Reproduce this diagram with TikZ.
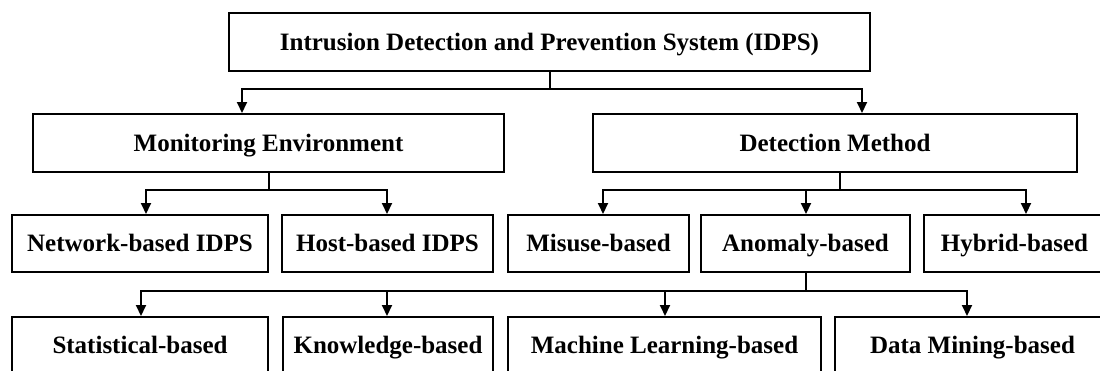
\documentclass[tikz,border=0pt]{standalone}
\usepackage{fontspec}
\setmainfont{Liberation Serif}
\usetikzlibrary{arrows.meta}
\begin{document}
\begin{tikzpicture}[x=1pt,y=-1pt,
  box/.style={draw=black, line width=2pt, rectangle, minimum height=57pt, inner sep=0pt,
    text height=16.5pt, text depth=0pt, font=\fontsize{25}{29}\selectfont\bfseries},
  conn/.style={draw=black, line width=2pt},
  arr/.style={conn, -{Triangle[width=10pt,length=11pt]}}]
\useasboundingbox (0,0) rectangle (1100,370);
\fill[white] (0,0) rectangle (1100,370);
% nodes
\node[box, minimum width=641pt, minimum height=58pt] (top) at (549.5,42) {Intrusion Detection and Prevention System (IDPS)};
\node[box, minimum width=471pt, minimum height=58pt] (me) at (268.5,143) {Monitoring Environment};
\node[box, minimum width=484pt, minimum height=58pt] (dm) at (835,143) {Detection Method};
\node[box, minimum width=256pt] (nb) at (140,243.5) {Network-based IDPS};
\node[box, minimum width=211pt] (hb) at (387.5,243.5) {Host-based IDPS};
\node[box, minimum width=181pt] (mb) at (598.5,243.5) {Misuse-based};
\node[box, minimum width=209pt] (ab) at (805.5,243.5) {Anomaly-based};
\node[box, minimum width=181pt] (hy) at (1014.5,243.5) {Hybrid-based};
\node[box, minimum width=256pt] (sb) at (140,345.5) {Statistical-based};
\node[box, minimum width=210pt] (kb) at (388,345.5) {Knowledge-based};
\node[box, minimum width=313pt] (ml) at (664.5,345.5) {Machine Learning-based};
\node[box, minimum width=275pt] (dmb) at (972.5,345.5) {Data Mining-based};
% junctions and arrow columns
\coordinate (j0) at (549.5,89);
\coordinate (j1) at (268.5,190);
\coordinate (j2) at (840,190);
\coordinate (j3) at (805.5,291);
\coordinate (c1) at (242,0);
\coordinate (c2) at (862,0);
\coordinate (c3) at (146,0);
\coordinate (c4) at (387,0);
\coordinate (c5) at (603,0);
\coordinate (c6) at (806,0);
\coordinate (c7) at (1026,0);
\coordinate (c8) at (141,0);
\coordinate (c9) at (387,0);
\coordinate (c10) at (665,0);
\coordinate (c11) at (967,0);
% connectors
\draw[conn] (top.south) -- (j0);
\draw[arr] (j0) -| (me.north -| c1);
\draw[arr] (j0) -| (dm.north -| c2);
\draw[conn] (me.south) -- (j1);
\draw[arr] (j1) -| (nb.north -| c3);
\draw[arr] (j1) -| (hb.north -| c4);
\draw[conn] (dm.south -| j2) -- (j2);
\draw[arr] (j2) -| (mb.north -| c5);
\draw[arr] (j2) -| (ab.north -| c6);
\draw[arr] (j2) -| (hy.north -| c7);
\draw[conn] (ab.south) -- (j3);
\draw[arr] (j3) -| (sb.north -| c8);
\draw[arr] (j3) -| (kb.north -| c9);
\draw[arr] (j3) -| (ml.north -| c10);
\draw[arr] (j3) -| (dmb.north -| c11);
\end{tikzpicture}
\end{document}
